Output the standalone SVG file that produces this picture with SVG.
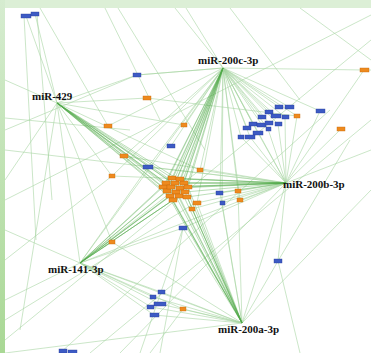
<svg xmlns="http://www.w3.org/2000/svg" width="371" height="353" viewBox="0 0 371 353">
<defs>
<linearGradient id="lg" x1="0" y1="0" x2="0" y2="1">
<stop offset="0" stop-color="#d6ecd0"/><stop offset="1" stop-color="#a9d895"/>
</linearGradient>
</defs>
<style>
.lt{stroke:#a8d4a2;stroke-width:0.7;fill:none;opacity:0.85}
.dk{stroke:#4fa847;stroke-width:0.7;fill:none;opacity:0.55}
.b{fill:#3d5bc4;stroke:#2a3f99;stroke-width:0.4}
.o{fill:#ee8a1e;stroke:#c56a0c;stroke-width:0.4}
.lbl{font-family:"Liberation Serif","DejaVu Serif",serif;font-weight:bold;font-size:11px;fill:#111}
</style>
<rect x="0" y="0" width="371" height="353" fill="#dcefd6"/>
<rect x="0" y="0" width="5" height="353" fill="url(#lg)"/>
<rect x="5" y="8" width="366" height="345" fill="#ffffff"/>
<g id="connectors">
<path class="lt" d="M26 16L57 103M35 14L57 103M24 16L36 240M37 14L52 200M105 8L160 120M118 8L205 150M5 80L57 103M5 118L130 130M57 103L137 75L223 68M57 103L147 98L297 116M57 103L5 180M57 103L20 330M57 103L112 242M57 103L112 176M57 103L184 125M57 103L200 170M223 68L175 8M223 68L186 8M223 68L364 70L371 70M223 68L137 75M223 68L108 126M223 68L124 156M223 68L112 176M223 68L148 167M223 68L171 146M223 68L184 125M223 68L200 170M223 68L220 193M223 68L222 203M223 68L238 191M223 68L240 200M223 68L197 203M223 68L320 111M223 68L286 183M223 68L80 263M223 68L241 137M223 68L247 128M223 68L250 137M223 68L253 124M223 68L258 133M223 68L262 117M223 68L262 125M223 68L268 129M223 68L269 112M223 68L269 123M223 68L276 116M223 68L278 124M223 68L279 107M223 68L285 117M223 68L289 107M223 68L297 116M286 183L241 137M286 183L250 137M286 183L258 133M286 183L268 129M286 183L278 124M286 183L285 117M286 183L297 116M286 183L320 111M286 183L341 129M286 183L364 70M286 183L371 150M286 183L238 191M286 183L240 200M286 183L220 193M286 183L222 203M286 183L197 203M286 183L192 209M286 183L200 170M286 183L124 156M286 183L112 176M286 183L148 167M286 183L183 228M286 183L80 263M286 183L242 323M286 183L278 261M286 183L5 150M286 183L120 353M80 263L112 242M80 263L161 292M80 263L153 297M80 263L160 304M80 263L151 307M80 263L154 315M80 263L183 309M80 263L242 323M80 263L5 300M80 263L5 230M80 263L57 103M80 263L148 167M80 263L183 228M80 263L200 170M242 323L161 292M242 323L153 297M242 323L160 304M242 323L151 307M242 323L154 315M242 323L183 309M242 323L278 261L350 140M242 323L5 353M242 323L197 203M242 323L192 209M242 323L220 193M242 323L222 203M242 323L183 228M242 323L371 190M242 323L112 242M242 323L238 191M183 228L160 353M183 228L140 353M5 340L371 40M5 320L200 200M60 353L330 110M90 353L371 120M5 200L371 15M300 8L371 60M5 260L112 176M5 130L137 75M40 8L108 126M230 8L300 100M183 309L150 353M278 261L300 353"/>
<path class="dk" d="M57 103L163 187M57 103L166 183M57 103L167 191M57 103L171 187M57 103L172 178M57 103L175 183M57 103L176 192M57 103L170 196M57 103L180 188M57 103L179 196M57 103L184 183M57 103L185 192M57 103L173 200M223 68L163 187M223 68L166 183M223 68L167 191M223 68L171 187M223 68L172 178M223 68L175 183M223 68L176 192M223 68L170 196M223 68L180 188M223 68L179 196M223 68L184 183M223 68L185 192M223 68L188 187M223 68L180 179M286 183L163 187M286 183L166 183M286 183L171 187M286 183L172 178M286 183L175 183M286 183L180 188M286 183L184 183M286 183L185 192M286 183L188 187M286 183L180 179M286 183L187 197M80 263L163 187M80 263L166 183M80 263L167 191M80 263L171 187M80 263L170 196M80 263L176 192M80 263L179 196M80 263L173 200M80 263L185 192M80 263L180 188M242 323L163 187M242 323L167 191M242 323L171 187M242 323L170 196M242 323L176 192M242 323L179 196M242 323L173 200M242 323L185 192M242 323L180 188M242 323L187 197M242 323L184 183M242 323L188 187"/>
</g>
<g id="nodes-blue">
<rect class="b" x="21" y="14" width="10" height="4"/>
<rect class="b" x="31" y="12" width="8" height="4"/>
<rect class="b" x="133" y="73" width="8" height="4"/>
<rect class="b" x="316" y="109" width="9" height="4"/>
<rect class="b" x="275" y="105" width="8" height="4"/>
<rect class="b" x="285" y="105" width="9" height="4"/>
<rect class="b" x="265" y="110" width="8" height="4"/>
<rect class="b" x="271" y="114" width="10" height="4"/>
<rect class="b" x="282" y="115" width="7" height="4"/>
<rect class="b" x="258" y="115" width="8" height="4"/>
<rect class="b" x="249" y="122" width="8" height="4"/>
<rect class="b" x="257" y="123" width="9" height="4"/>
<rect class="b" x="265" y="121" width="8" height="4"/>
<rect class="b" x="275" y="122" width="7" height="4"/>
<rect class="b" x="243" y="126" width="8" height="4"/>
<rect class="b" x="253" y="131" width="10" height="4"/>
<rect class="b" x="266" y="127" width="5" height="4"/>
<rect class="b" x="238" y="135" width="6" height="4"/>
<rect class="b" x="245" y="135" width="10" height="4"/>
<rect class="b" x="167" y="144" width="8" height="4"/>
<rect class="b" x="143" y="165" width="10" height="4"/>
<rect class="b" x="216" y="191" width="7" height="4"/>
<rect class="b" x="220" y="201" width="5" height="4"/>
<rect class="b" x="179" y="226" width="8" height="4"/>
<rect class="b" x="274" y="259" width="8" height="4"/>
<rect class="b" x="158" y="290" width="7" height="4"/>
<rect class="b" x="150" y="295" width="6" height="4"/>
<rect class="b" x="154" y="302" width="12" height="4"/>
<rect class="b" x="147" y="305" width="7" height="4"/>
<rect class="b" x="150" y="313" width="9" height="4"/>
<rect class="b" x="59" y="349" width="8" height="4"/>
<rect class="b" x="68" y="350" width="9" height="4"/>
</g>
<g id="nodes-orange">
<rect class="o" x="143" y="96" width="8" height="4"/>
<rect class="o" x="360" y="68" width="9" height="4"/>
<rect class="o" x="294" y="114" width="6" height="4"/>
<rect class="o" x="337" y="127" width="8" height="4"/>
<rect class="o" x="104" y="124" width="8" height="4"/>
<rect class="o" x="181" y="123" width="6" height="4"/>
<rect class="o" x="120" y="154" width="8" height="4"/>
<rect class="o" x="197" y="168" width="6" height="4"/>
<rect class="o" x="109" y="174" width="6" height="4"/>
<rect class="o" x="235" y="189" width="6" height="4"/>
<rect class="o" x="237" y="198" width="6" height="4"/>
<rect class="o" x="193" y="201" width="8" height="4"/>
<rect class="o" x="189" y="207" width="6" height="4"/>
<rect class="o" x="109" y="240" width="6" height="4"/>
<rect class="o" x="180" y="307" width="6" height="4"/>
</g>
<g id="cluster">
<rect class="o" x="159" y="185" width="8" height="4"/>
<rect class="o" x="162" y="181" width="8" height="4"/>
<rect class="o" x="163" y="189" width="8" height="4"/>
<rect class="o" x="167" y="185" width="8" height="4"/>
<rect class="o" x="168" y="176" width="8" height="4"/>
<rect class="o" x="171" y="181" width="8" height="4"/>
<rect class="o" x="172" y="190" width="8" height="4"/>
<rect class="o" x="166" y="194" width="8" height="4"/>
<rect class="o" x="176" y="186" width="8" height="4"/>
<rect class="o" x="175" y="194" width="8" height="4"/>
<rect class="o" x="180" y="181" width="8" height="4"/>
<rect class="o" x="181" y="190" width="8" height="4"/>
<rect class="o" x="184" y="185" width="8" height="4"/>
<rect class="o" x="169" y="198" width="8" height="4"/>
<rect class="o" x="176" y="177" width="8" height="4"/>
<rect class="o" x="183" y="195" width="8" height="4"/>
</g>
<g id="hub-miR-200c-3p"><text class="lbl" x="198" y="64">miR-200c-3p</text></g>
<g id="hub-miR-429"><text class="lbl" x="32" y="100">miR-429</text></g>
<g id="hub-miR-200b-3p"><text class="lbl" x="283" y="188">miR-200b-3p</text></g>
<g id="hub-miR-141-3p"><text class="lbl" x="48" y="273">miR-141-3p</text></g>
<g id="hub-miR-200a-3p"><text class="lbl" x="218" y="333">miR-200a-3p</text></g>
</svg>
